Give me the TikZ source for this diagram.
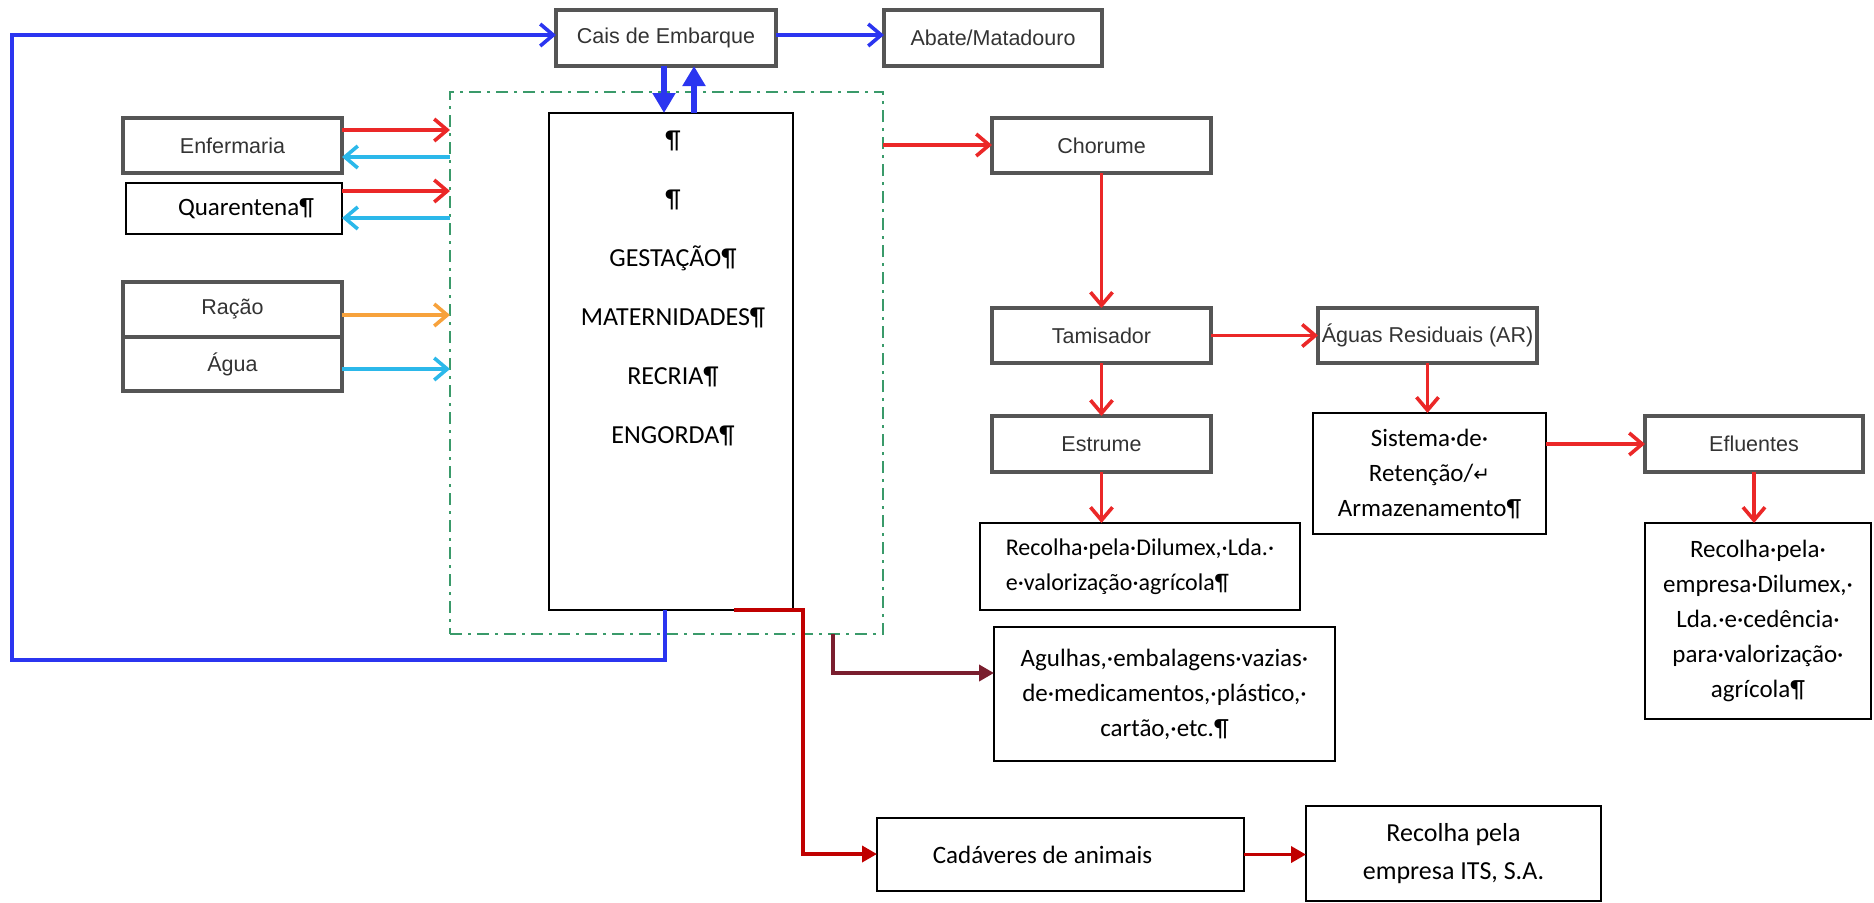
\documentclass[tikz,border=0pt]{standalone}
\usepackage{fontspec}
\setmainfont{Carlito}
\newfontfamily\arialf{Liberation Sans}
\newfontfamily\djv{DejaVu Sans}
\usetikzlibrary{arrows.meta}
\definecolor{cred}{HTML}{EB2828}
\definecolor{ccyan}{HTML}{2BB8EA}
\definecolor{corange}{HTML}{F7A23C}
\definecolor{cblue}{HTML}{2B35F0}
\definecolor{cdred}{HTML}{C00000}
\definecolor{cmaroon}{HTML}{7A1E2E}
\definecolor{cgreen}{HTML}{3A9A6A}
\definecolor{boxgray}{HTML}{555555}
\definecolor{txtgray}{HTML}{333333}
\tikzset{
  gbox/.style={draw=boxgray, line width=1.6pt, inner sep=0pt, outer sep=0pt,
    font=\arialf\fontsize{10.75}{13}\selectfont, text=txtgray, align=center},
  kbox/.style={draw=black, line width=0.9pt, inner sep=0pt, outer sep=0pt,
    font=\fontsize{12.5}{17.5}\selectfont, align=center},
  greenbox/.style={draw=cgreen, line width=1.3pt, inner sep=0pt, outer sep=0pt,
    dash pattern=on 6pt off 3pt on 1.5pt off 3pt},
  thinarr/.style={line width=1.8pt, -{Straight Barb[length=6.5pt,width=11pt]}},
  redarr/.style={thinarr, draw=cred},
  cyanarr/.style={thinarr, draw=ccyan},
  orangearr/.style={thinarr, draw=corange},
  bluearr/.style={thinarr, draw=cblue},
  bigblue/.style={draw=cblue, fill=cblue, line width=2.6pt, -{Triangle[length=10pt,width=11pt]}},
  dredarr/.style={draw=cdred, line width=1.8pt, -{Triangle[length=7.5pt,width=8pt]}},
  maroonarr/.style={draw=cmaroon, line width=2.2pt, -{Triangle[length=7.5pt,width=8pt]}},
}
\newcommand\pbox[7]{\node[#1,minimum width={(#4-#2)*0.5pt},minimum height={(#5-#3)*0.5pt}] (#6) at ({(#2+#4)/2},{(#3+#5)/2}) {#7};}
\begin{document}
\begin{tikzpicture}[x=0.5pt,y=-0.5pt]
\useasboundingbox (0,0) rectangle (1874,902);
% boxes
\pbox{gbox}{556}{10}{776}{66}{cais}{Cais de Embarque}
\pbox{gbox}{884}{10}{1102}{66}{abate}{Abate/Matadouro}
\pbox{greenbox}{450}{92}{883}{634}{green}{}
\pbox{kbox}{549}{113}{793}{610}{main}{}
\node[font=\fontsize{13}{29.5}\selectfont, align=center, inner sep=0pt] (maintext) at (673,288)
  {¶\\¶\\GESTAÇÃO¶\\MATERNIDADES¶\\RECRIA¶\\ENGORDA¶};
\pbox{gbox}{123}{118}{342}{173}{enf}{Enfermaria}
\pbox{kbox}{126}{183}{342}{234}{quar}{\hspace{12pt}Quarentena¶}
\pbox{gbox}{123}{282}{342}{337}{racao}{Ração}
\pbox{gbox}{123}{337}{342}{391}{agua}{Água}
\pbox{gbox}{992}{118}{1211}{173}{chorume}{Chorume}
\pbox{gbox}{992}{308}{1211}{363}{tamis}{Tamisador}
\pbox{gbox}{1318}{308}{1537}{363}{aguasres}{Águas Residuais (AR)}
\pbox{gbox}{992}{416}{1211}{472}{estrume}{Estrume}
\pbox{kbox}{1313}{413}{1546}{534}{sistema}{Sistema·de·\\Retenção/{\djv\fontsize{10}{12}\selectfont ↵}\\Armazenamento¶}
\pbox{gbox}{1645}{416}{1863}{472}{efl}{Efluentes}
\node[kbox, font=\fontsize{12}{17.5}\selectfont, align=left, minimum width=160pt, minimum height=43.5pt] (recd) at (1140,566.5)
  {Recolha·pela·Dilumex,·Lda.·\\e·valorização·agrícola¶};
\pbox{kbox}{1645}{523}{1871}{719}{rece}{Recolha·pela·\\empresa·Dilumex,·\\Lda.·e·cedência·\\para·valorização·\\agrícola¶}
\pbox{kbox}{994}{627}{1335}{761}{agulhas}{Agulhas,·embalagens·vazias·\\de·medicamentos,·plástico,·\\cartão,·etc.¶}
\pbox{kbox}{877}{818}{1244}{891}{cad}{Cadáveres de animais\hspace{18pt}}
\node[kbox, font=\fontsize{13}{19}\selectfont, minimum width=147.5pt, minimum height=47.5pt] (its) at (1453.5,853.5)
  {Recolha pela\\empresa ITS, S.A.};
% blue connectors
\draw[bluearr] (main.south -| 665,0) -- (665,660) -- (12,660) -- (12,35) -- (cais.west |- 0,35);
\draw[bluearr] (cais.east |- 0,35) -- (abate.west |- 0,35);
\draw[bigblue] (cais.south -| 664,0) -- (main.north -| 664,0);
\draw[bigblue] (main.north -| 694,0) -- (cais.south -| 694,0);
% left side
\draw[redarr] (enf.east |- 0,130) -- (green.west |- 0,130);
\draw[cyanarr] (green.west |- 0,157) -- (enf.east |- 0,157);
\draw[redarr] (quar.east |- 0,191) -- (green.west |- 0,191);
\draw[cyanarr] (green.west |- 0,218) -- (quar.east |- 0,218);
\draw[orangearr] (racao.east |- 0,315) -- (green.west |- 0,315);
\draw[cyanarr] (agua.east |- 0,369) -- (green.west |- 0,369);
% right side
\draw[redarr] (green.east |- 0,145) -- (chorume.west |- 0,145);
\draw[redarr] (chorume.south) -- (tamis.north);
\draw[redarr] (tamis.east) -- (aguasres.west);
\draw[redarr] (tamis.south) -- (estrume.north);
\draw[redarr] (aguasres.south) -- (sistema.north -| aguasres.south);
\draw[redarr] (sistema.east |- efl.west) -- (efl.west);
\draw[redarr] (estrume.south) -- (recd.north -| estrume.south);
\draw[redarr] (efl.south) -- (rece.north -| efl.south);
% bottom
\draw[dredarr] (main.south -| 734,0) -- (803,610) -- (803,854) -- (cad.west |- 0,854);
\draw[maroonarr] (green.south -| 833,0) -- (833,673) -- (agulhas.west |- 0,673);
\draw[dredarr] (cad.east) -- (its.west |- cad.east);
\end{tikzpicture}
\end{document}
